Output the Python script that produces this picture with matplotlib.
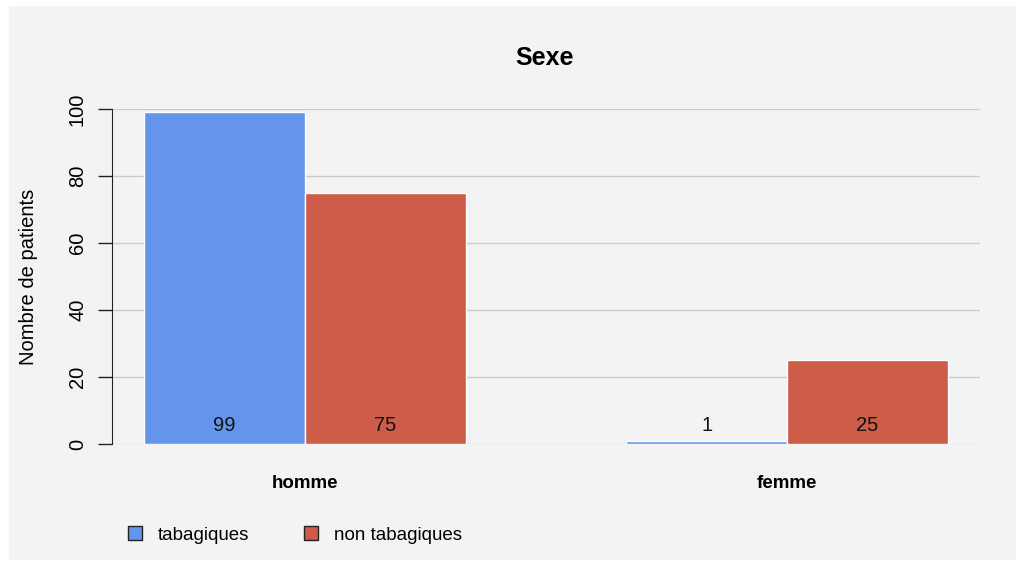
import matplotlib
matplotlib.use("Agg")
import matplotlib.pyplot as plt
from matplotlib.patches import Rectangle, Patch

# data
categories = ["homme", "femme"]
series_names = ["tabagiques", "non tabagiques"]
tabagiques = [99, 1]
non_tabagiques = [75, 25]
yticks = [0, 20, 40, 60, 80, 100]

blue = "#6495ED"
red = "#CD5C48"

plt.rcParams["font.family"] = ["Liberation Sans", "DejaVu Sans"]

fig = plt.figure(figsize=(10.23, 5.66), dpi=100, facecolor="white")
# grey panel behind the chart
fig.patches.append(Rectangle((9 / 1023, 1 - 560 / 566), 1007 / 1023, 554 / 566,
                             transform=fig.transFigure, facecolor="#f3f3f3",
                             edgecolor="none", zorder=-10))

ax = fig.add_axes([112 / 1023, 1 - 444 / 566, 868 / 1023, 335 / 566])
ax.set_facecolor("none")

pos_blue = [0, 3]
pos_red = [1, 4]
ax.bar(pos_blue, tabagiques, width=1, color=blue, edgecolor="white", linewidth=1, zorder=3)
ax.bar(pos_red, non_tabagiques, width=1, color=red, edgecolor="white", linewidth=1, zorder=3)

for x, v in zip(pos_blue + pos_red, tabagiques + non_tabagiques):
    ax.annotate(str(v), (x, 0), xytext=(0, 13.5), textcoords="offset points",
                ha="center", va="center", fontsize=14.5, color="#111111", zorder=4)

ax.set_xlim(-0.699, 4.699)
ax.set_ylim(0, 100)
ax.set_yticks(yticks)
ax.set_yticklabels([str(t) for t in yticks], rotation=90, va="center", fontsize=14.5)
ax.tick_params(axis="y", length=10, width=1, pad=8, color="#222222")
ax.set_xticks([])
ax.grid(axis="y", color="#cccccc", linewidth=1, zorder=0)
for s in ["top", "right", "bottom"]:
    ax.spines[s].set_visible(False)
ax.spines["left"].set_color("#222222")
ax.spines["left"].set_zorder(5)

ax.set_ylabel("Nombre de patients", fontsize=14.5)
ax.yaxis.set_label_coords(-0.085, 0.5)

# category labels under each group
for c, x in zip(categories, [0.5, 3.5]):
    ax.text(x, -11.8, c, ha="center", va="center", fontsize=13.5, fontweight="bold")

fig.text(545 / 1023, 1 - 58 / 566, "Sexe", ha="center", va="center",
         fontsize=18, fontweight="bold")

handles = [Patch(facecolor=blue, edgecolor="#222222", linewidth=1),
           Patch(facecolor=red, edgecolor="#222222", linewidth=1)]
fig.legend(handles, series_names, loc="center left",
           bbox_to_anchor=(128 / 1023, 1 - 535 / 566), ncol=2, frameon=False,
           fontsize=13.5, handlelength=0.75, handleheight=0.75,
           handletextpad=0.85, columnspacing=2.9, borderpad=0, borderaxespad=0)

plt.savefig("out.png", dpi=100, facecolor="white")
